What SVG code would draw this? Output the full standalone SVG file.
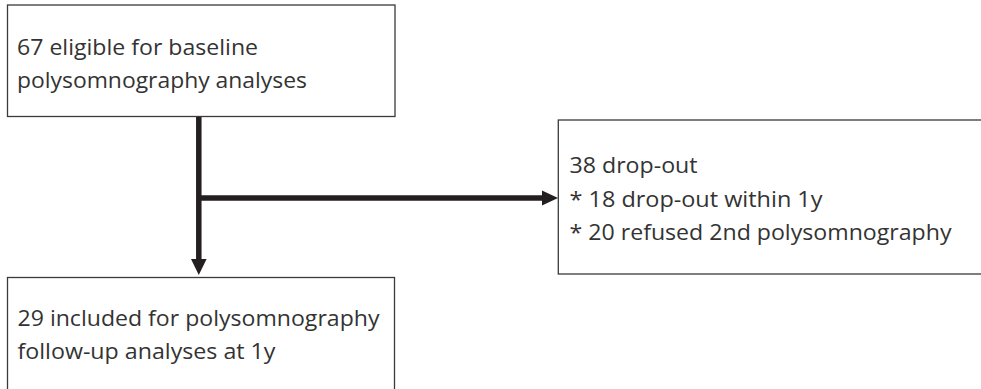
<svg xmlns="http://www.w3.org/2000/svg" width="981" height="389" viewBox="0 0 981 389">
  <style>
    .box { fill: #ffffff; stroke: #3a3a3a; stroke-width: 1.3; }
    .t { font-family: "Open Sans", Lato, "Liberation Sans", sans-serif; font-size: 21px; font-weight: 400; fill: #333333; }
    .conn { stroke: #231f20; stroke-width: 5.5; fill: none; }
  </style>
  <rect width="981" height="389" fill="#ffffff"/>
  <g id="connectors">
    <path class="conn" d="M198.8,117 V259" />
    <path d="M191,259 L206.6,259 L198.8,275 Z" fill="#231f20"/>
    <path class="conn" d="M198.8,198 H543" />
    <path d="M542,190.5 L558,198 L542,205.5 Z" fill="#231f20"/>
  </g>
  <g id="node-eligible">
    <rect class="box" x="7.5" y="5" width="387.5" height="111.5"/>
    <text class="t" x="17" y="55" textLength="241" lengthAdjust="spacingAndGlyphs">67 eligible for baseline</text>
    <text class="t" x="17" y="87.5" textLength="290" lengthAdjust="spacingAndGlyphs">polysomnography analyses</text>
  </g>
  <g id="node-dropout">
    <rect class="box" x="558.3" y="120" width="440" height="154"/>
    <text class="t" x="569.5" y="173" textLength="128" lengthAdjust="spacingAndGlyphs">38 drop-out</text>
    <text class="t" x="569.5" y="206.5" textLength="253" lengthAdjust="spacingAndGlyphs">* 18 drop-out within 1y</text>
    <text class="t" x="569.5" y="240" textLength="382" lengthAdjust="spacingAndGlyphs">* 20 refused 2nd polysomnography</text>
  </g>
  <g id="node-included">
    <rect class="box" x="7.5" y="277.5" width="387" height="130"/>
    <text class="t" x="17.5" y="326" textLength="362" lengthAdjust="spacingAndGlyphs">29 included for polysomnography</text>
    <text class="t" x="17.5" y="358.5" textLength="258" lengthAdjust="spacingAndGlyphs">follow-up analyses at 1y</text>
  </g>
</svg>
